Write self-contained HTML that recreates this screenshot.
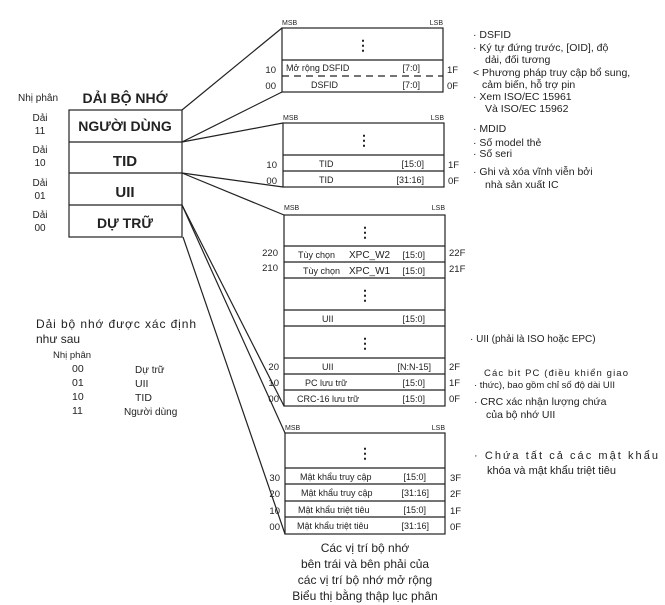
<!DOCTYPE html>
<html><head><meta charset="utf-8"><style>
body{margin:0;background:#fff}
svg{display:block}
text{font-family:"Liberation Sans",sans-serif;fill:#222}
</style></head><body>
<svg width="665" height="605" viewBox="0 0 665 605" xmlns="http://www.w3.org/2000/svg">
<g stroke="#222" stroke-width="1.2" fill="none">
<rect x="69" y="110" width="113" height="127"/>
<line x1="69" y1="142" x2="182" y2="142"/>
<line x1="69" y1="173" x2="182" y2="173"/>
<line x1="69" y1="205" x2="182" y2="205"/>
<line x1="182" y1="110" x2="282" y2="28"/>
<line x1="182" y1="142" x2="282" y2="92"/>
<line x1="182" y1="142" x2="283" y2="123"/>
<line x1="182" y1="173" x2="283" y2="187"/>
<line x1="182" y1="173" x2="284" y2="215"/>
<line x1="182" y1="205" x2="284" y2="406"/>
<line x1="182" y1="205" x2="285" y2="433"/>
<line x1="183" y1="237" x2="285" y2="534"/>
<rect x="282" y="28" width="161" height="64"/>
<line x1="282" y1="60" x2="443" y2="60"/>
<line x1="282" y1="76" x2="443" y2="76" stroke-dasharray="7,5"/>
<rect x="283" y="123" width="161" height="64"/>
<line x1="283" y1="155" x2="444" y2="155"/>
<line x1="283" y1="171" x2="444" y2="171"/>
<rect x="284" y="215" width="161" height="191"/>
<line x1="284" y1="246" x2="445" y2="246"/>
<line x1="284" y1="262" x2="445" y2="262"/>
<line x1="284" y1="278" x2="445" y2="278"/>
<line x1="284" y1="310" x2="445" y2="310"/>
<line x1="284" y1="326" x2="445" y2="326"/>
<line x1="284" y1="358" x2="445" y2="358"/>
<line x1="284" y1="374" x2="445" y2="374"/>
<line x1="284" y1="390" x2="445" y2="390"/>
<rect x="285" y="433" width="160" height="101"/>
<line x1="285" y1="468" x2="445" y2="468"/>
<line x1="285" y1="484" x2="445" y2="484"/>
<line x1="285" y1="501" x2="445" y2="501"/>
<line x1="285" y1="517" x2="445" y2="517"/>
</g>
<g font-size="15" font-weight="bold" text-anchor="middle">
<text x="125" y="103" font-size="14">DẢI BỘ NHỚ</text>
<text x="125" y="131" font-size="14">NGƯỜI DÙNG</text>
<text x="125" y="166">TID</text>
<text x="125" y="197">UII</text>
<text x="125" y="228" font-size="14">DỰ TRỮ</text>
</g>
<g font-size="10" fill="#444" text-anchor="middle">
<text x="38" y="101">Nhị phân</text>
<text x="40" y="121">Dải</text><text x="40" y="134">11</text>
<text x="40" y="153">Dải</text><text x="40" y="166">10</text>
<text x="40" y="186">Dải</text><text x="40" y="199">01</text>
<text x="40" y="218">Dải</text><text x="40" y="231">00</text>
</g>
<g font-size="14" text-anchor="middle" font-weight="bold">
<text x="363" y="50">⋮</text><text x="364" y="145">⋮</text>
<text x="365" y="237">⋮</text><text x="365" y="300">⋮</text><text x="365" y="348">⋮</text>
<text x="365" y="458">⋮</text>
</g>
<g font-size="7" fill="#333">
<text x="282" y="25">MSB</text><text x="443" y="25" text-anchor="end">LSB</text>
<text x="283" y="120">MSB</text><text x="444" y="120" text-anchor="end">LSB</text>
<text x="284" y="210">MSB</text><text x="445" y="210" text-anchor="end">LSB</text>
<text x="285" y="430">MSB</text><text x="445" y="430" text-anchor="end">LSB</text>
</g>
<g font-size="9">
<text x="286" y="71">Mở rộng DSFID</text><text x="420" y="71" text-anchor="end">[7:0]</text>
<text x="311" y="88">DSFID</text><text x="420" y="88" text-anchor="end">[7:0]</text>
<text x="319" y="167">TID</text><text x="424" y="167" text-anchor="end">[15:0]</text>
<text x="319" y="183">TID</text><text x="424" y="183" text-anchor="end">[31:16]</text>
<text x="298" y="258">Tùy chọn</text><text x="349" y="258" font-size="10">XPC_W2</text><text x="425" y="258" text-anchor="end">[15:0]</text>
<text x="303" y="274">Tùy chọn</text><text x="349" y="274" font-size="10">XPC_W1</text><text x="425" y="274" text-anchor="end">[15:0]</text>
<text x="322" y="322">UII</text><text x="425" y="322" text-anchor="end">[15:0]</text>
<text x="322" y="370">UII</text><text x="431" y="370" text-anchor="end">[N:N-15]</text>
<text x="305" y="386">PC lưu trữ</text><text x="425" y="386" text-anchor="end">[15:0]</text>
<text x="297" y="402">CRC-16 lưu trữ</text><text x="425" y="402" text-anchor="end">[15:0]</text>
<text x="300" y="480">Mật khẩu truy cập</text><text x="426" y="480" text-anchor="end">[15:0]</text>
<text x="301" y="496">Mật khẩu truy cập</text><text x="429" y="496" text-anchor="end">[31:16]</text>
<text x="298" y="513">Mật khẩu triệt tiêu</text><text x="426" y="513" text-anchor="end">[15:0]</text>
<text x="297" y="529">Mật khẩu triệt tiêu</text><text x="429" y="529" text-anchor="end">[31:16]</text>
</g>
<g font-size="9.5" fill="#333">
<text x="276" y="73" text-anchor="end">10</text><text x="276" y="89" text-anchor="end">00</text>
<text x="277" y="168" text-anchor="end">10</text><text x="277" y="184" text-anchor="end">00</text>
<text x="278" y="256" text-anchor="end">220</text><text x="278" y="271" text-anchor="end">210</text>
<text x="279" y="370" text-anchor="end">20</text><text x="279" y="386" text-anchor="end">10</text><text x="279" y="402" text-anchor="end">00</text>
<text x="280" y="481" text-anchor="end">30</text><text x="280" y="497" text-anchor="end">20</text><text x="280" y="514" text-anchor="end">10</text><text x="280" y="530" text-anchor="end">00</text>
<text x="447" y="73">1F</text><text x="447" y="89">0F</text>
<text x="448" y="168">1F</text><text x="448" y="184">0F</text>
<text x="449" y="256">22F</text><text x="449" y="272">21F</text>
<text x="449" y="370">2F</text><text x="449" y="386">1F</text><text x="449" y="402">0F</text>
<text x="450" y="481">3F</text><text x="450" y="497">2F</text><text x="450" y="514">1F</text><text x="450" y="530">0F</text>
</g>
<g font-size="10.5" fill="#333">
<text x="473" y="38">·  DSFID</text>
<text x="473" y="51">·  Ký tự đứng trước, [OID], độ</text>
<text x="485" y="63">dải, đối tương</text>
<text x="473" y="76">&lt; Phương pháp truy cập bổ sung,</text>
<text x="482" y="88">cảm biến, hỗ trợ pin</text>
<text x="473" y="100">·  Xem ISO/EC 15961</text>
<text x="485" y="112">Và ISO/EC 15962</text>
<text x="473" y="132">·  MDID</text>
<text x="473" y="146">·  Số model thẻ</text>
<text x="473" y="157">·  Số seri</text>
<text x="473" y="175">·  Ghi và xóa vĩnh viễn bởi</text>
<text x="485" y="188">nhà sản xuất IC</text>
<text x="470" y="342" font-size="10">·  UII (phải là ISO hoặc EPC)</text>
<text x="484" y="376" font-size="9.5" textLength="144">Các bit PC (điều khiển giao</text>
<text x="474" y="388" font-size="9.5">· thức), bao gồm chỉ số độ dài UII</text>
<text x="474" y="405">·  CRC xác nhận lượng chứa</text>
<text x="486" y="418">của bộ nhớ UII</text>
<text x="474" y="459" font-size="11" textLength="184">·  Chứa tất cả các mật khẩu</text>
<text x="487" y="474" font-size="11">khóa và mật khẩu triệt tiêu</text>
</g>
<g font-size="12" fill="#333" text-anchor="middle">
<text x="365" y="552">Các vị trí bộ nhớ</text>
<text x="365" y="568">bên trái và bên phải của</text>
<text x="365" y="584">các vị trí bộ nhớ mở rộng</text>
<text x="365" y="600">Biểu thị bằng thập lục phân</text>
</g>
<g fill="#333">
<text x="36" y="328" font-size="12" textLength="160">Dải bộ nhớ được xác định</text>
<text x="36" y="343" font-size="12">như sau</text>
<text x="53" y="358" font-size="9.5">Nhị phân</text>
<g font-size="10.5">
<text x="72" y="372">00</text><text x="135" y="373" font-size="10">Dự trữ</text>
<text x="72" y="386">01</text><text x="135" y="387">UII</text>
<text x="72" y="400">10</text><text x="135" y="401">TID</text>
<text x="72" y="414">11</text><text x="124" y="415" font-size="10">Người dùng</text>
</g>
</g>
</svg>
</body></html>
